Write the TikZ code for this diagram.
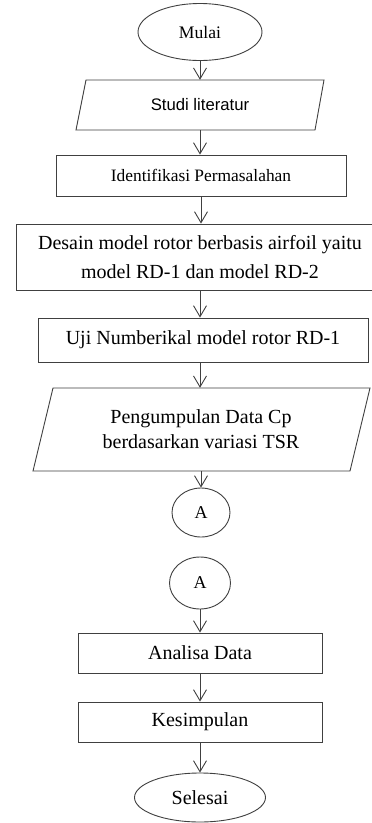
\documentclass[tikz,border=0pt]{standalone}
\usepackage{fontspec}
\setmainfont{Liberation Serif}
\newfontfamily\arialfont{Liberation Sans}
\usetikzlibrary{shapes.geometric,arrows.meta}
\definecolor{linegray}{HTML}{404040}
\tikzset{
  base/.style={draw=linegray, line width=0.9pt, inner sep=0pt, align=center, text=black},
  procbox/.style={base, rectangle},
  term/.style={base, ellipse},
  hidden/.style={rectangle, draw=none, inner sep=0pt, align=center, text=black},
  para/.style={draw=linegray, line width=0.9pt},
  conn/.style={draw=linegray, line width=0.9pt, -{Straight Barb[length=11pt,width=13pt,line width=0.9pt]}},
  big/.style={font=\fontsize{20}{29}\selectfont},
}
\begin{document}
\begin{tikzpicture}[x=1pt,y=-1pt]
\useasboundingbox (0,0) rectangle (372,823);
\fill[white] (0,0) rectangle (372,823);

\node[term, minimum width=124pt, minimum height=57pt, font=\fontsize{17.6}{20}\selectfont] (mulai) at (200,32) {Mulai};

\draw[para] (86,80) -- (324,80) -- (315,130) -- (76,130) -- cycle;
\node[hidden, minimum width=200pt, minimum height=50pt, font=\arialfont\fontsize{16.7}{20}\selectfont] (studi) at (200,105) {Studi literatur};

\node[procbox, minimum width=290pt, minimum height=41pt, font=\fontsize{17.4}{20}\selectfont] (ident) at (201,175.5) {Identifikasi Permasalahan};

\node[procbox, minimum width=368pt, minimum height=66pt, big] (desain) at (200,257) {Desain model rotor berbasis airfoil yaitu\\model RD-1 dan model RD-2};

\node[procbox, minimum width=330pt, minimum height=44pt, big] (uji) at (203,340) {Uji Numberikal model rotor RD-1};

\draw[para] (53,388) -- (370,388) -- (350,471) -- (33,471) -- cycle;
\node[hidden, minimum width=200pt, minimum height=83pt, font=\fontsize{20}{25}\selectfont] (data) at (201,429.5) {Pengumpulan Data Cp\\berdasarkan variasi TSR};

\node[term, minimum width=58pt, minimum height=49pt, font=\fontsize{18}{20}\selectfont] (a1) at (201,512.5) {A};

\node[term, minimum width=61pt, minimum height=52pt, font=\fontsize{18}{20}\selectfont] (a2) at (200,583) {A};

\node[procbox, minimum width=244pt, minimum height=40pt, big] (analisa) at (200,653) {Analisa Data};

\node[procbox, minimum width=244pt, minimum height=40pt, big] (kesimpulan) at (200,722) {Kesimpulan};

\node[term, minimum width=131pt, minimum height=49pt, big] (selesai) at (200,797.5) {Selesai};

\draw[conn] (mulai.south) -- (mulai.south |- studi.north);
\draw[conn] (studi.south) -- (studi.south |- ident.north);
\draw[conn] (ident.south) -- (ident.south |- desain.north);
\draw[conn] (desain.south) -- (desain.south |- uji.north);
\draw[conn] (desain.south |- uji.south) -- (desain.south |- data.north);
\draw[conn] (data.south) -- (a1.north);
\draw[conn] (a2.south) -- (a2.south |- analisa.north);
\draw[conn] (analisa.south) -- (kesimpulan.north);
\draw[conn] (kesimpulan.south) -- (selesai.north);
\end{tikzpicture}
\end{document}
